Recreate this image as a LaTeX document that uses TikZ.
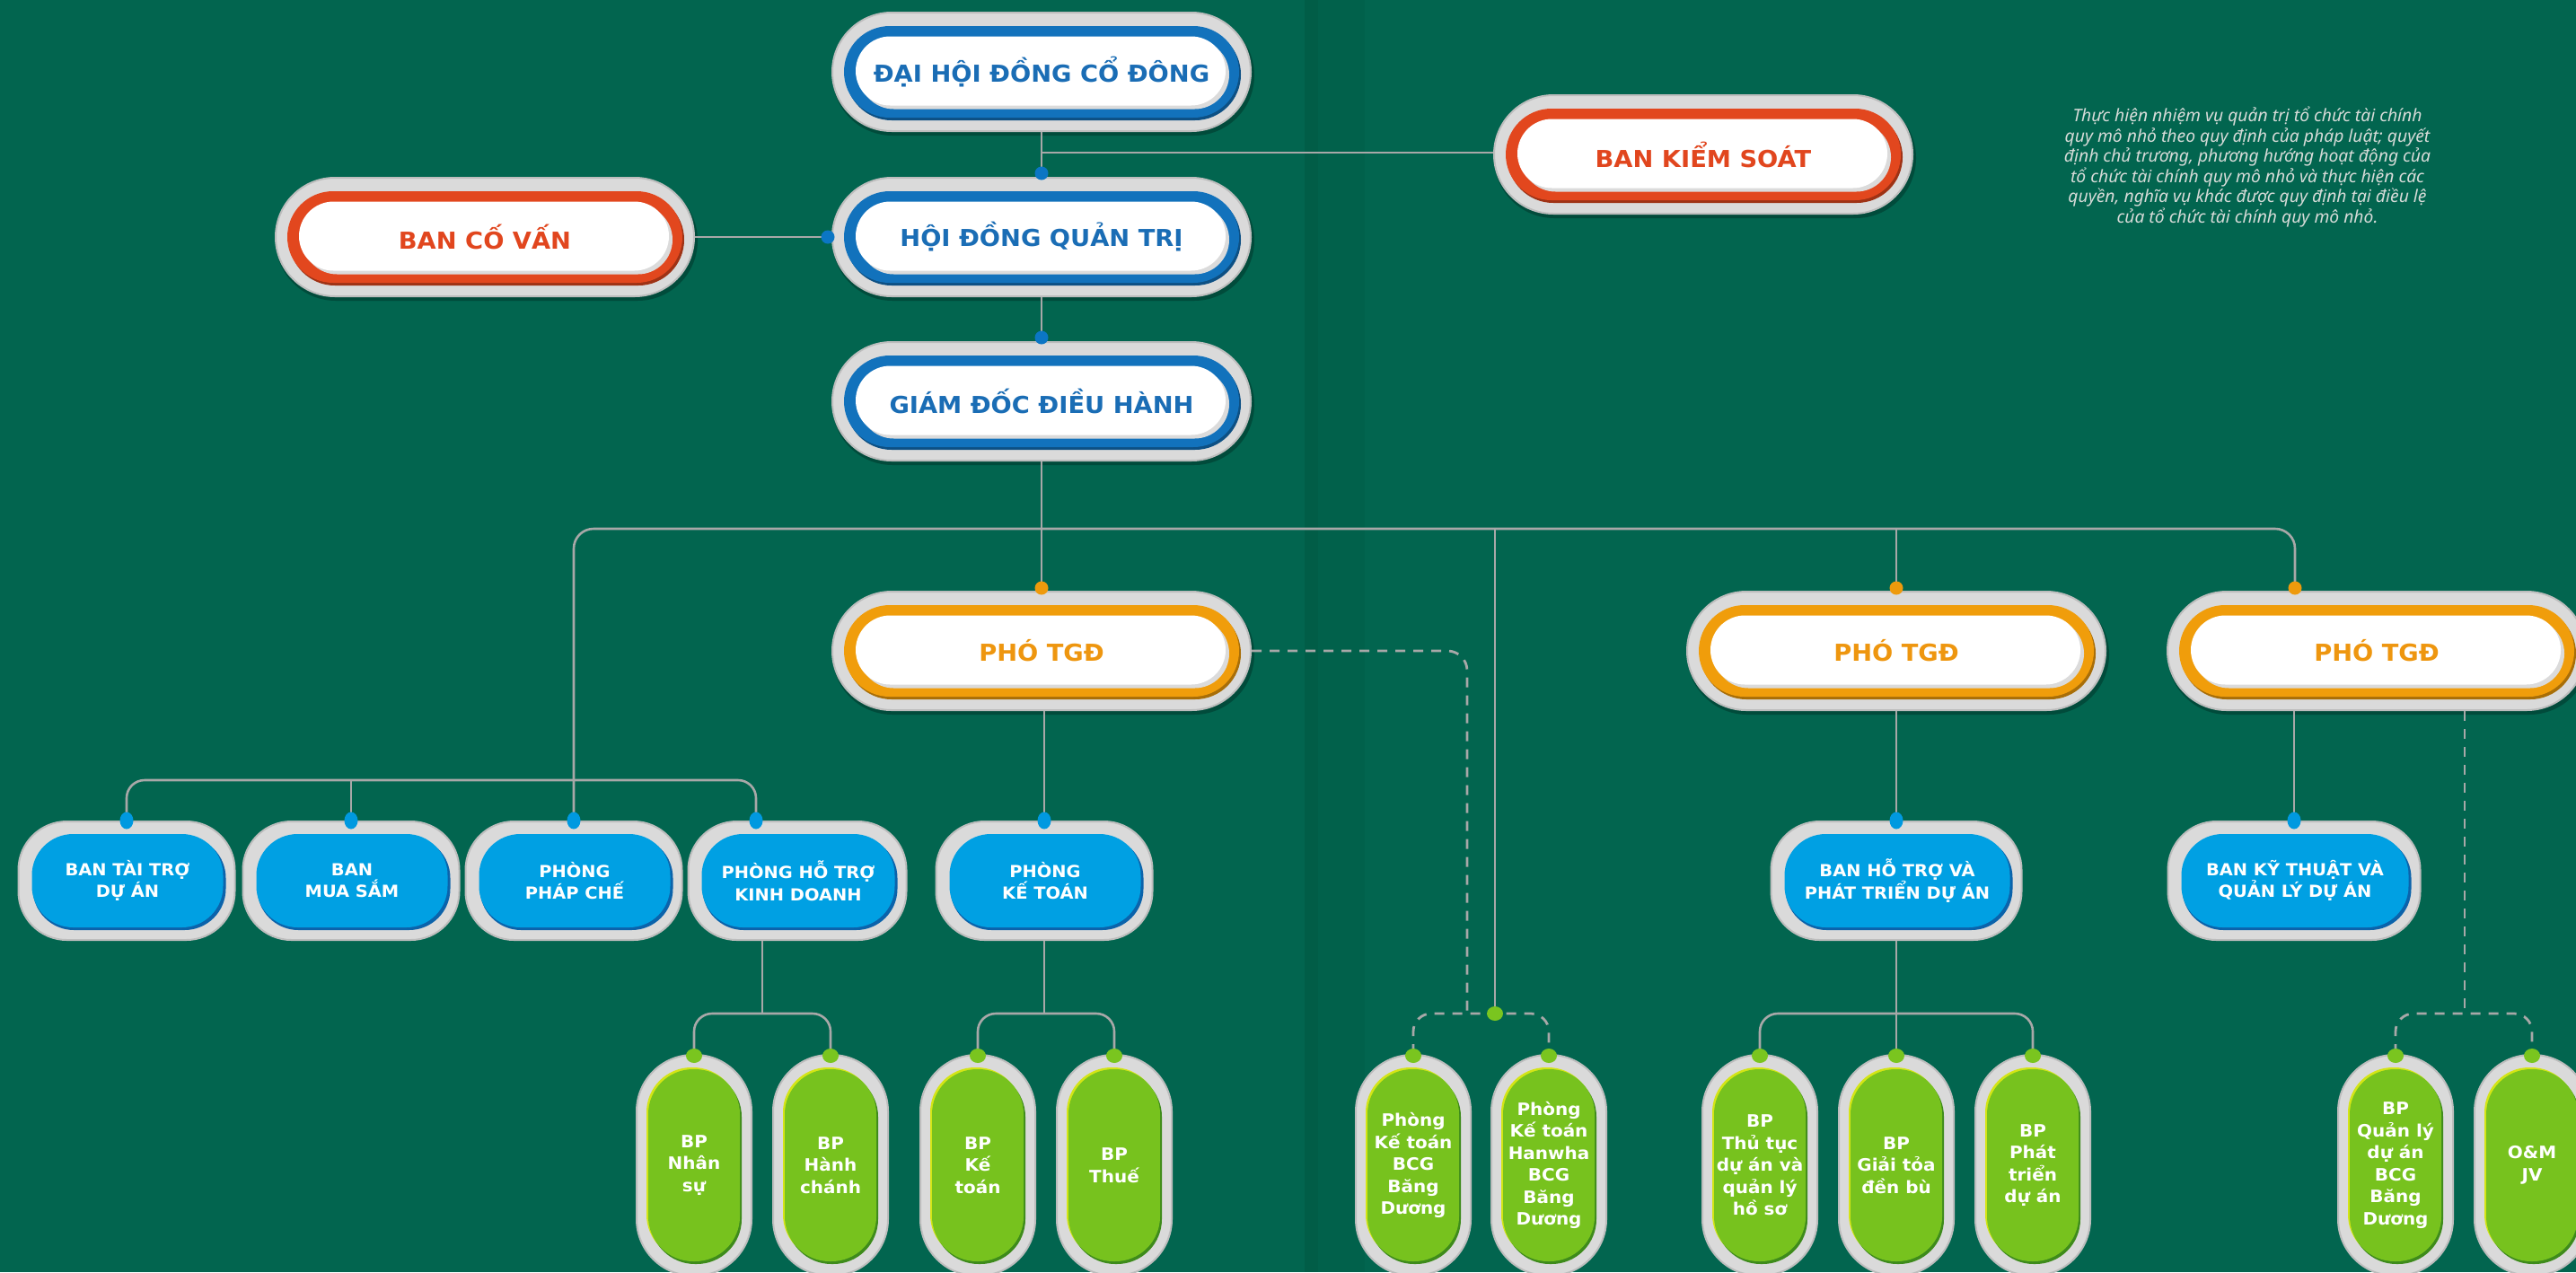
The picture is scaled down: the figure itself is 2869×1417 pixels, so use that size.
\documentclass[tikz,border=0pt]{standalone}
\usepackage{fontspec}
\setmainfont{Noto Sans}
\newfontfamily\capfont{DejaVu Sans}[FakeStretch=1.05]
\usetikzlibrary{shapes.misc,shapes.geometric,calc}
\definecolor{bg}{HTML}{02654F}
\definecolor{bgfoldA}{HTML}{015D47}
\definecolor{bgfoldB}{HTML}{01614B}
\definecolor{pgray}{HTML}{DADADA}
\definecolor{pgrayedge}{HTML}{BDBDBD}
\definecolor{mblue}{HTML}{1272BC}
\definecolor{mbluetext}{HTML}{1A6DB5}
\definecolor{mred}{HTML}{E2471E}
\definecolor{mredtext}{HTML}{E1461E}
\definecolor{morange}{HTML}{F09D0B}
\definecolor{morangetext}{HTML}{EE960F}
\definecolor{cblue}{HTML}{00A0E3}
\definecolor{cbluedark}{HTML}{0B63AB}
\definecolor{lgreen}{HTML}{77C21E}
\definecolor{lgreendark}{HTML}{3E8B1B}
\definecolor{lgreenlight}{HTML}{D4E516}
\definecolor{lineg}{HTML}{A8A8A8}
\definecolor{dotblue}{HTML}{0B76C4}
\definecolor{dotcyan}{HTML}{0099E0}
\definecolor{dotorange}{HTML}{EE9A0C}
\definecolor{dotgreen}{HTML}{7AC51F}
\definecolor{partext}{HTML}{D6DBD8}
\tikzset{
  conn/.style={draw=lineg, line width=2.6pt},
  dconn/.style={draw=lineg, line width=2.8pt, dash pattern=on 11pt off 9pt},
  mpshadow/.style={rounded rectangle, fill=black, opacity=0.25, minimum width=470pt, minimum height=134pt, inner sep=0pt},
  mpouter/.style={rounded rectangle, fill=pgray, draw=pgrayedge, line width=2pt, minimum width=466pt, minimum height=132pt, inner sep=0pt},
  mpring/.style={rounded rectangle, minimum width=440pt, minimum height=102pt, inner sep=0pt},
  mpinner/.style={rounded rectangle, fill=white, minimum width=412pt, minimum height=77pt, inner sep=0pt},
  mptext/.style={font=\capfont\bfseries\fontsize{26}{31}\selectfont, inner sep=0pt},
  bbouter/.style={rectangle, rounded corners=54pt, fill=pgray, draw=pgrayedge, line width=2pt, minimum height=132pt, inner sep=0pt},
  bbinner/.style={rectangle, rounded corners=46pt, minimum height=104pt, inner sep=0pt},
  bbtext/.style={font=\capfont\bfseries\fontsize{18.5}{24.5}\selectfont, text=white, align=center, inner sep=0pt},
  gpouter/.style={rectangle, rounded corners=63pt, fill=pgray, draw=pgrayedge, line width=2pt, minimum width=128pt, minimum height=246pt, inner sep=0pt},
  gpinner/.style={rectangle, rounded corners=50pt, minimum width=102pt, minimum height=214pt, inner sep=0pt},
  gptext/.style={font=\capfont\bfseries\fontsize{19}{24.5}\selectfont, text=white, align=center, inner sep=0pt},
  mdot/.style={circle, fill=#1, minimum size=15pt, inner sep=0pt},
  edot/.style={ellipse, fill=#1, minimum width=15pt, minimum height=19pt, inner sep=0pt},
  gdot/.style={ellipse, fill=#1, minimum width=18pt, minimum height=16pt, inner sep=0pt}
}
\newcommand{\MainPill}[5]{%
  \node[mpshadow] (#1-sh) at ($(#2)+(2,4)$) {};
  \node[mpouter] (#1) at (#2) {};
  \node[mpring, fill=#3!70!black] (#1-rs) at ($(#2)+(2,3)$) {};
  \node[mpring, fill=#3] (#1-ring) at (#2) {};
  \node[mpinner, fill=black!14] (#1-is) at ($(#2)+(3,3)$) {};
  \node[mpinner] (#1-in) at ($(#2)+(-1,-1)$) {};
  \node[mptext, text=#4] (#1-t) at ($(#2)+(0,0)$) {#5};
}
\newcommand{\BlueBox}[4]{%
  \node[bbouter, minimum width=#3] (#1) at (#2) {};
  \node[bbinner, fill=cbluedark, minimum width={#3-26}] (#1-s) at ($(#2)+(3,3)$) {};
  \node[bbinner, fill=cblue, minimum width={#3-28}] (#1-in) at ($(#2)+(1,0)$) {};
  \node[bbtext] (#1-t) at ($(#2)+(1,0)$) {#4};
}
\newcommand{\GreenPill}[3]{%
  \node[gpouter] (#1) at (#2) {};
  \node[gpinner, fill=lgreenlight] (#1-hl) at ($(#2)+(-2,-2)$) {};
  \node[gpinner, fill=lgreendark] (#1-s) at ($(#2)+(2,3)$) {};
  \node[gpinner, fill=lgreen] (#1-in) at ($(#2)+(0,0)$) {};
  \node[gptext] (#1-t) at (#2) {#3};
}
\begin{document}
\begin{tikzpicture}[x=1pt,y=-1pt]
\useasboundingbox (0,0) rectangle (2869,1417);
\fill[bg] (0,0) rectangle (2869,1417);
\fill[bgfoldA] (1453,0) rectangle (1468,1417);
\fill[bgfoldB] (1468,0) rectangle (1520,1417);

% note text
\node[align=center, text=partext, inner sep=0pt,
      font=\itshape\fontsize{19.3}{22.6}\selectfont] (note) at (2503,186)
 {Thực hiện nhiệm vụ quản trị tổ chức tài chính\\
  quy mô nhỏ theo quy định của pháp luật; quyết\\
  định chủ trương, phương hướng hoạt động của\\
  tổ chức tài chính quy mô nhỏ và thực hiện các\\
  quyền, nghĩa vụ khác được quy định tại điều lệ\\
  của tổ chức tài chính quy mô nhỏ.};

% main pills
\MainPill{dhdcd}{1160,80}{mblue}{mbluetext}{ĐẠI HỘI ĐỒNG CỔ ĐÔNG}
\MainPill{hdqt}{1160,264}{mblue}{mbluetext}{HỘI ĐỒNG QUẢN TRỊ}
\MainPill{gddh}{1160,447}{mblue}{mbluetext}{GIÁM ĐỐC ĐIỀU HÀNH}
\MainPill{bks}{1897,172}{mred}{mredtext}{BAN KIỂM SOÁT}
\MainPill{bcv}{540,264}{mred}{mredtext}{BAN CỐ VẤN}
\MainPill{ptgda}{1160,725}{morange}{morangetext}{PHÓ TGĐ}
\MainPill{ptgdb}{2112,725}{morange}{morangetext}{PHÓ TGĐ}
\MainPill{ptgdc}{2647,725}{morange}{morangetext}{PHÓ TGĐ}

% level 3
\BlueBox{taitro}{141,981}{241}{BAN TÀI TRỢ\\DỰ ÁN}
\BlueBox{muasam}{391,981}{241}{BAN\\MUA SẮM}
\BlueBox{phapche}{639,981}{241}{PHÒNG\\PHÁP CHẾ}
\BlueBox{hotro}{888,981}{243}{PHÒNG HỖ TRỢ\\KINH DOANH}
\BlueBox{ketoan}{1163,981}{241}{PHÒNG\\KẾ TOÁN}
\BlueBox{bht}{2112,981}{279}{BAN HỖ TRỢ VÀ\\PHÁT TRIỂN DỰ ÁN}
\BlueBox{bkt}{2555,981}{281}{BAN KỸ THUẬT VÀ\\QUẢN LÝ DỰ ÁN}

% level 4
\GreenPill{nhansu}{773,1298}{BP\\Nhân\\sự}
\GreenPill{hanhchanh}{925,1298}{BP\\Hành\\chánh}
\GreenPill{bpketoan}{1089,1298}{BP\\Kế\\toán}
\GreenPill{thue}{1241,1298}{BP\\Thuế}
\GreenPill{pkta}{1574,1298}{\baselineskip=27pt Phòng\\Kế toán\\BCG\\Băng\\Dương}
\GreenPill{pktb}{1725,1298}{\baselineskip=26pt Phòng\\Kế toán\\Hanwha\\BCG\\Băng\\Dương}
\GreenPill{thutuc}{1960,1298}{BP\\Thủ tục\\dự án và\\quản lý\\hồ sơ}
\GreenPill{giaitoa}{2112,1298}{BP\\Giải tỏa\\đền bù}
\GreenPill{phattrien}{2264,1298}{BP\\Phát\\triển\\dự án}
\GreenPill{qlda}{2668,1298}{BP\\Quản lý\\dự án\\BCG\\Băng\\Dương}
\GreenPill{omjv}{2820,1298}{O\&M\\JV}

% junction coordinates
\coordinate (jbks) at (1160,170);
\coordinate (bus) at (1160,589);
\coordinate (lb) at (0,869);
\coordinate (lf) at (0,1129);
\coordinate (hotroin) at ($(hotro.north)+(-46,0)$);
\coordinate (hotroout) at ($(hotro.south)+(-39,0)$);
\coordinate (ptgdcin) at ($(ptgdc.north)+(-91,0)$);
\coordinate (ptgdcout) at ($(ptgdc.south)+(98,0)$);
\coordinate (dv) at (1634,1129);
\coordinate (gj) at (1665,1129);

% connectors
\draw[conn] (dhdcd.south) -- (hdqt.north);
\draw[conn] (jbks) -- (jbks -| bks.west);
\draw[conn] (bcv.east) -- (hdqt.west);
\draw[conn] (hdqt.south) -- (gddh.north);
\draw[conn] (gddh.south) -- (ptgda.north);
\draw[conn, rounded corners=22pt] (phapche.north) -- (phapche.north |- bus) -- (ptgdcin |- bus) -- (ptgdcin);
\draw[conn] (ptgdb.north |- bus) -- (ptgdb.north);
\draw[conn] (gj |- bus) -- (gj);
\draw[conn, rounded corners=20pt] (taitro.north) -- (taitro.north |- lb) -- (hotroin |- lb) -- (hotroin);
\draw[conn] (muasam.north |- lb) -- (muasam.north);
\draw[conn] (ketoan.north |- ptgda.south) -- (ketoan.north);
\draw[conn] (bht.north |- ptgdb.south) -- (bht.north);
\draw[conn] (bkt.north |- ptgdc.south) -- (bkt.north);
\draw[conn] (hotroout) -- (hotroout |- lf);
\draw[conn, rounded corners=20pt] (nhansu.north) -- (nhansu.north |- lf) -- (hanhchanh.north |- lf) -- (hanhchanh.north);
\draw[conn] (ketoan.south) -- (ketoan.south |- lf);
\draw[conn, rounded corners=20pt] (bpketoan.north) -- (bpketoan.north |- lf) -- (thue.north |- lf) -- (thue.north);
\draw[conn] (bht.south) -- (giaitoa.north);
\draw[conn, rounded corners=20pt] (thutuc.north) -- (thutuc.north |- lf) -- (phattrien.north |- lf) -- (phattrien.north);
\draw[dconn, rounded corners=22pt] (ptgda.east) -- (ptgda.east -| dv) -- (dv);
\draw[dconn, rounded corners=20pt] (pkta.north) -- (pkta.north |- lf) -- (pktb.north |- lf) -- (pktb.north);
\draw[dconn] (ptgdcout) -- (ptgdcout |- lf);
\draw[dconn, rounded corners=20pt] (qlda.north) -- (qlda.north |- lf) -- (omjv.north |- lf) -- (omjv.north);

% dots
\node[mdot=dotblue] (d-hdqt) at ($(hdqt.north)+(0,-4)$) {};
\node[mdot=dotblue] (d-hdqtw) at ($(hdqt.west)+(-4,0)$) {};
\node[mdot=dotblue] (d-gddh) at ($(gddh.north)+(0,-4)$) {};
\node[mdot=dotorange] (d-ptgda) at ($(ptgda.north)+(0,-3)$) {};
\node[mdot=dotorange] (d-ptgdb) at ($(ptgdb.north)+(0,-3)$) {};
\node[mdot=dotorange] (d-ptgdc) at ($(ptgdcin)+(0,-3)$) {};
\node[edot=dotcyan] (d-taitro) at (taitro.north) {};
\node[edot=dotcyan] (d-muasam) at (muasam.north) {};
\node[edot=dotcyan] (d-phapche) at (phapche.north) {};
\node[edot=dotcyan] (d-hotro) at (hotroin) {};
\node[edot=dotcyan] (d-ketoan) at (ketoan.north) {};
\node[edot=dotcyan] (d-bht) at (bht.north) {};
\node[edot=dotcyan] (d-bkt) at (bkt.north) {};
\node[gdot=dotgreen] (d-gj) at (gj) {};
\foreach \n in {nhansu,hanhchanh,bpketoan,thue,pkta,pktb,thutuc,giaitoa,phattrien,qlda,omjv}
  \node[gdot=dotgreen] (d-\n) at ($(\n.north)+(0,2)$) {};
\end{tikzpicture}
\end{document}
